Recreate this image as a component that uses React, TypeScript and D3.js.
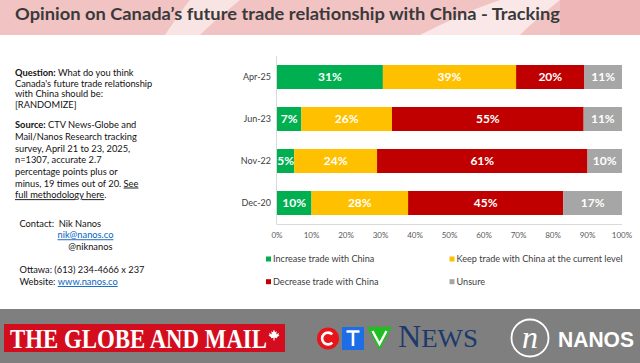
import React, { useEffect, useRef } from "react";
import * as d3 from "d3";

const W = 640;
const H = 363;

const periods = ["Apr-25", "Jun-23", "Nov-22", "Dec-20"];
const increase = [31, 7, 5, 10];
const keep = [39, 26, 24, 28];
const decrease = [20, 55, 61, 45];
const unsure = [11, 11, 10, 17];
const seriesKeys = ["increase", "keep", "decrease", "unsure"];
const seriesNames = [
  "Increase trade with China",
  "Keep trade with China at the current level",
  "Decrease trade with China",
  "Unsure",
];
const seriesColors = ["#00b050", "#ffc000", "#c00000", "#a6a6a6"];
const xTicks = [0, 10, 20, 30, 40, 50, 60, 70, 80, 90, 100];

const title = "Opinion on Canada\u2019s future trade relationship with China - Tracking";

type Seg = { t: string; b?: boolean; u?: boolean; link?: boolean };

const questionLines: Seg[][] = [
  [{ t: "Question:", b: true }, { t: " What do you think" }],
  [{ t: "Canada's future trade relationship" }],
  [{ t: "with China should be:" }],
  [{ t: "[RANDOMIZE]" }],
];
const sourceLines: Seg[][] = [
  [{ t: "Source:", b: true }, { t: " CTV News-Globe and" }],
  [{ t: "Mail/Nanos Research tracking" }],
  [{ t: "survey, April 21 to 23, 2025," }],
  [{ t: "n=1307, accurate 2.7" }],
  [{ t: "percentage points plus or" }],
  [{ t: "minus, 19 times out of 20. " }, { t: "See", u: true }],
  [{ t: "full methodology here", u: true }, { t: "." }],
];

const FONT = "Lato, 'Open Sans', sans-serif";
const SERIF = "'Liberation Serif', 'DejaVu Serif', serif";

const App = () => {
  const svgRef = useRef<SVGSVGElement | null>(null);

  useEffect(() => {
    if (!svgRef.current) return;
    const svg = d3.select(svgRef.current);
    svg.selectAll("*").remove();

    // ── Title band ──────────────────────────────────────────────
    svg.append("rect").attr("x", 0).attr("y", 0).attr("width", W).attr("height", 35).attr("fill", "#f2c3c3");
    svg.append("path")
      .attr("d", "M165,35 C172,25 180,12 190,0 L240,0 C225,12 210,25 200,35 Z")
      .attr("fill", "#ffffff").attr("opacity", 0.55);
    svg.append("path")
      .attr("d", "M420,35 C440,25 470,10 500,0 L560,0 C545,12 530,25 520,35 Z")
      .attr("fill", "#ffffff").attr("opacity", 0.6);
    svg.append("rect").attr("x", 560).attr("y", 0).attr("width", 80).attr("height", 35).attr("fill", "#e9a9a9").attr("opacity", 0.5);
    svg.append("text")
      .attr("x", 15).attr("y", 19.5)
      .attr("font-family", FONT).attr("font-weight", 700).attr("font-size", 17.5)
      .attr("fill", "#3a3a3a")
      .attr("textLength", 545).attr("lengthAdjust", "spacingAndGlyphs")
      .text(title);

    // ── Left notes ──────────────────────────────────────────────
    const SX = 1.01;
    const notes = svg.append("g").attr("transform", `translate(15,0) scale(${SX},1)`)
      .attr("font-family", FONT).attr("font-size", 9.2).attr("fill", "#111");
    const writeLine = (segs: Seg[], x: number, y: number) => {
      const t = notes.append("text").attr("x", x).attr("y", y);
      segs.forEach((s) => {
        t.append("tspan")
          .attr("font-weight", s.b ? 700 : 400)
          .attr("fill", s.link ? "#0563c1" : "#111")
          .attr("text-decoration", s.u ? "underline" : null)
          .attr("style", "white-space:pre")
          .text(s.t);
      });
    };
    questionLines.forEach((l, i) => writeLine(l, 0, 76 + i * 10.7));
    sourceLines.forEach((l, i) => writeLine(l, 0, 128.3 + i * 11.65));
    const cx = (v: number) => (v - 15) / SX;
    writeLine([{ t: "Contact:  Nik Nanos" }], cx(19.5), 226.7);
    writeLine([{ t: "nik@nanos.co", u: true, link: true }], cx(57.5), 238.3);
    writeLine([{ t: "@niknanos" }], cx(68.3), 249.7);
    writeLine([{ t: "Ottawa: (613) 234-4666 x 237" }], cx(19.5), 273.3);
    writeLine([{ t: "Website: " }, { t: "www.nanos.co", u: true, link: true }], cx(19.5), 285);

    // ── Chart ───────────────────────────────────────────────────
    const rows = periods.map((p, i) => ({
      period: p,
      increase: increase[i],
      keep: keep[i],
      decrease: decrease[i],
      unsure: unsure[i],
    }));
    const raw: Record<string, number[]> = { increase, keep, decrease, unsure };
    const stacked = d3.stack<any>().keys(seriesKeys).offset(d3.stackOffsetExpand)(rows);

    const x = d3.scaleLinear().domain([0, 1]).range([277, 622]);
    const y = d3.scaleBand().domain(periods).range([56, 224]).paddingInner(0.4286).paddingOuter(0.2143);

    const g = svg.append("g");
    stacked.forEach((layer, si) => {
      layer.forEach((d, i) => {
        const x0 = x(d[0]);
        const x1 = x(d[1]);
        const yy = y(periods[i]) as number;
        g.append("rect")
          .attr("x", x0).attr("y", yy)
          .attr("width", x1 - x0).attr("height", y.bandwidth())
          .attr("fill", seriesColors[si]);
        g.append("text")
          .attr("x", (x0 + x1) / 2).attr("y", yy + y.bandwidth() / 2 + 4.2)
          .attr("text-anchor", "middle")
          .attr("font-family", FONT).attr("font-weight", 700).attr("font-size", 12)
          .attr("fill", "#ffffff")
          .text(`${raw[seriesKeys[si]][i]}%`);
      });
    });

    // axes
    svg.append("line").attr("x1", 276.5).attr("x2", 276.5).attr("y1", 56).attr("y2", 224)
      .attr("stroke", "#d9d9d9").attr("stroke-width", 1);
    svg.append("line").attr("x1", 276.5).attr("x2", 622).attr("y1", 224.5).attr("y2", 224.5)
      .attr("stroke", "#d9d9d9").attr("stroke-width", 1);

    periods.forEach((p) => {
      svg.append("text")
        .attr("x", 271).attr("y", (y(p) as number) + y.bandwidth() / 2 + 3)
        .attr("text-anchor", "end")
        .attr("font-family", FONT).attr("font-size", 9).attr("fill", "#404040")
        .text(p);
    });

    xTicks.forEach((t) => {
      svg.append("text")
        .attr("x", x(t / 100)).attr("y", 238)
        .attr("text-anchor", "middle")
        .attr("font-family", FONT).attr("font-size", 8).attr("fill", "#595959")
        .text(`${t}%`);
    });

    // legend
    const legendPos = [
      [266, 259], [449.5, 259],
      [266, 281.7], [449.5, 281.7],
    ];
    seriesNames.forEach((n, i) => {
      const [lx, ly] = legendPos[i];
      svg.append("rect").attr("x", lx).attr("y", ly - 2.5).attr("width", 5).attr("height", 5).attr("fill", seriesColors[i]);
      svg.append("text")
        .attr("x", lx + 7).attr("y", ly + 3.3)
        .attr("font-family", FONT).attr("font-size", 9.1).attr("fill", "#404040")
        .text(n);
    });

    // ── Footer ──────────────────────────────────────────────────
    svg.append("rect").attr("x", 0).attr("y", 309).attr("width", W).attr("height", H - 309).attr("fill", "#7f7f7f");

    // Globe and Mail
    svg.append("rect").attr("x", 4).attr("y", 324).attr("width", 281).attr("height", 28).attr("fill", "#d40d1e");
    svg.append("text")
      .attr("x", 10).attr("y", 348)
      .attr("font-family", SERIF).attr("font-weight", 700).attr("font-size", 27)
      .attr("fill", "#ffffff")
      .attr("textLength", 257).attr("lengthAdjust", "spacingAndGlyphs")
      .text("THE GLOBE AND MAIL");
    svg.append("path")
      .attr("transform", "translate(274,335) scale(0.55)")
      .attr("d", "M0,-10 L2,-5 L5,-7 L4,-1 L9,-4 L8,0 L10,1 L5,4 L6,6 L1,5 L1,10 L-1,10 L-1,5 L-6,6 L-5,4 L-10,1 L-8,0 L-9,-4 L-4,-1 L-5,-7 L-2,-5 Z")
      .attr("fill", "#ffffff");

    // CTV News
    svg.append("circle").attr("cx", 328).attr("cy", 338.5).attr("r", 11).attr("fill", "#e8141b");
    const arc = d3.arc()({ innerRadius: 4.6, outerRadius: 7.2, startAngle: 0.75, endAngle: Math.PI * 2 - 0.75 } as any);
    svg.append("path").attr("d", arc as string).attr("transform", "translate(328,338.5) rotate(90)").attr("fill", "#fff");
    svg.append("rect").attr("x", 342).attr("y", 327).attr("width", 22).attr("height", 23).attr("fill", "#1d6ee6");
    svg.append("path").attr("d", "M346.5,331.5 H359.5 M353,331.5 V346").attr("stroke", "#fff").attr("stroke-width", 2.6).attr("fill", "none");
    svg.append("path").attr("d", "M367,327 H392 L379.5,350 Z").attr("fill", "#1fbf1f");
    svg.append("path").attr("d", "M372.5,331 L379.5,344 L386.5,331").attr("stroke", "#fff").attr("stroke-width", 2.4).attr("fill", "none");
    const news = svg.append("text")
      .attr("x", 398).attr("y", 347)
      .attr("font-family", SERIF)
      .attr("fill", "#1b3a6b")
      .attr("textLength", 80).attr("lengthAdjust", "spacingAndGlyphs");
    news.append("tspan").attr("font-size", 31).text("N");
    news.append("tspan").attr("font-size", 26).text("EWS");

    // Nanos
    svg.append("circle").attr("cx", 530).attr("cy", 338).attr("r", 18.5)
      .attr("fill", "none").attr("stroke", "#fff").attr("stroke-width", 1.8);
    svg.append("text")
      .attr("x", 530).attr("y", 348).attr("text-anchor", "middle")
      .attr("font-family", SERIF).attr("font-style", "italic").attr("font-size", 32)
      .attr("fill", "#fff").text("n");
    svg.append("text")
      .attr("x", 558).attr("y", 347)
      .attr("font-family", "'Liberation Sans', Arial, sans-serif").attr("font-weight", 700).attr("font-size", 21.5)
      .attr("fill", "#fff")
      .attr("textLength", 76).attr("lengthAdjust", "spacingAndGlyphs")
      .text("NANOS");
  }, []);

  return (
    <svg
      ref={svgRef}
      width={W}
      height={H}
      style={{ position: "absolute", left: 0, top: 0, background: "#ffffff" }}
    />
  );
};

export default App;
